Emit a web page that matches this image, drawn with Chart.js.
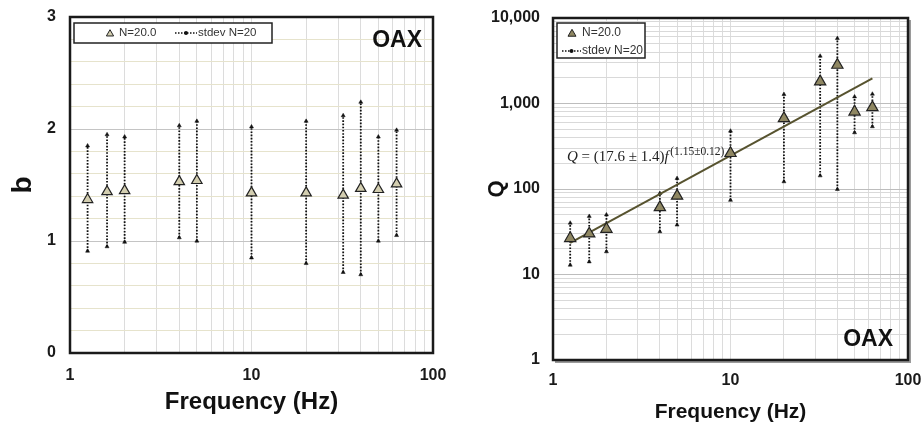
<!DOCTYPE html>
<html>
<head>
<meta charset="utf-8">
<script src="https://cdn.jsdelivr.net/npm/chart.js@4.4.1/dist/chart.umd.min.js"></script>
<style>
    body { margin: 0; background: #fff; }
    .panel { position: absolute; top: 0; }
</style>
</head>
<body>
<div class="panel" style="left:0"><canvas id="bChart" width="460" height="427"></canvas></div>
<div class="panel" style="left:460px"><canvas id="qChart" width="461" height="427"></canvas></div>
<script>
// frequencies (Hz)
const FREQ = [1.25, 1.6, 2, 4, 5, 10, 20, 32, 40, 50, 63];

// left panel: b with stdev range
const B_MEAN = [1.37, 1.44, 1.45, 1.53, 1.54, 1.43, 1.43, 1.41, 1.47, 1.46, 1.51];
const B_LOW  = [0.91, 0.95, 0.99, 1.03, 1.00, 0.85, 0.80, 0.72, 0.70, 1.00, 1.05];
const B_HIGH = [1.85, 1.95, 1.93, 2.03, 2.07, 2.02, 2.07, 2.12, 2.24, 1.93, 1.99];

// right panel: Q with stdev range
const Q_MEAN = [26.5, 30, 34, 61, 83, 262, 670, 1800, 2820, 800, 900];
const Q_LOW  = [12.9, 14.1, 18.5, 31.7, 38, 74, 122, 143, 99, 456, 537];
const Q_HIGH = [40, 48, 50, 89, 133, 477, 1280, 3590, 5780, 1200, 1290];

// fitted line end points
const FIT_F = [1.25, 63];
const FIT_Q = [23.5, 1970];

// tick labels
const F_TICKS = [1, 10, 100];
const B_TICKS = [0, 1, 2, 3];
const Q_TICKS = [1, 10, 100, 1000, 10000];

const STATION = 'OAX';
const LEGEND_MEAN = 'N=20.0';
const LEGEND_STD = 'stdev N=20';

Chart.defaults.font.family = "'Liberation Sans', Arial, sans-serif";
Chart.defaults.color = '#1a1a1a';

// log grid positions 1,2,..9,10,20,...
function logGrid(fromExp, toExp) {
    var vals = [];
    for (var e = fromExp; e < toExp; e++) {
        for (var m = 1; m < 10; m++) vals.push(m * Math.pow(10, e));
    }
    vals.push(Math.pow(10, toExp));
    return vals;
}

function errorBarData(lo, hi) {
    var pts = [];
    FREQ.forEach(function (f, i) {
        pts.push({x: f, y: lo[i]}, {x: f, y: hi[i]}, {x: f, y: null});
    });
    return pts;
}

function meanData(vals) {
    return FREQ.map(function (f, i) { return {x: f, y: vals[i]}; });
}

// small dotted sample with marker for legends
function drawStdSample(ctx, x1, x2, y) {
    ctx.save();
    ctx.strokeStyle = '#111';
    ctx.lineWidth = 1.6;
    ctx.setLineDash([1.5, 1.5]);
    ctx.beginPath();
    ctx.moveTo(x1, y);
    ctx.lineTo(x2, y);
    ctx.stroke();
    ctx.setLineDash([]);
    ctx.fillStyle = '#111';
    ctx.beginPath();
    ctx.arc((x1 + x2) / 2, y, 2, 0, Math.PI * 2);
    ctx.fill();
    ctx.restore();
}

function drawTri(ctx, x, y, r, fill) {
    ctx.save();
    ctx.fillStyle = fill;
    ctx.strokeStyle = '#222';
    ctx.lineWidth = 1;
    ctx.beginPath();
    ctx.moveTo(x, y - r);
    ctx.lineTo(x + r * 0.95, y + r * 0.65);
    ctx.lineTo(x - r * 0.95, y + r * 0.65);
    ctx.closePath();
    ctx.fill();
    ctx.stroke();
    ctx.restore();
}

function frame(ctx, a, shadow) {
    ctx.save();
    if (shadow) {
        ctx.strokeStyle = '#9a9a9a';
        ctx.lineWidth = 2;
        ctx.beginPath();
        ctx.moveTo(a.left + 2, a.bottom + 2);
        ctx.lineTo(a.right + 2, a.bottom + 2);
        ctx.lineTo(a.right + 2, a.top + 2);
        ctx.stroke();
    }
    ctx.strokeStyle = '#1a1a1a';
    ctx.lineWidth = 2.5;
    ctx.strokeRect(a.left, a.top, a.right - a.left, a.bottom - a.top);
    ctx.restore();
}

var bDecor = {
    id: 'bDecor',
    afterDraw: function (chart) {
        var ctx = chart.ctx, a = chart.chartArea;
        frame(ctx, a, false);
        // legend
        var lx = a.left + 4, ly = a.top + 6;
        ctx.save();
        ctx.fillStyle = '#fff';
        ctx.fillRect(lx, ly, 198, 20);
        ctx.strokeStyle = '#222';
        ctx.lineWidth = 1.5;
        ctx.strokeRect(lx, ly, 198, 20);
        drawTri(ctx, lx + 36, ly + 10.5, 3.8, '#d3ceb0');
        ctx.fillStyle = '#333';
        ctx.font = "11.5px 'Liberation Sans'";
        ctx.textBaseline = 'middle';
        ctx.fillText(LEGEND_MEAN, lx + 45, ly + 10);
        drawStdSample(ctx, lx + 101, lx + 123, ly + 10);
        ctx.fillText(LEGEND_STD, lx + 124, ly + 10);
        // station
        ctx.font = "bold 23px 'Liberation Sans'";
        ctx.fillStyle = '#111';
        ctx.textAlign = 'right';
        ctx.fillText(STATION, a.right - 11, a.top + 24);
        ctx.restore();
    }
};

var qDecor = {
    id: 'qDecor',
    afterDraw: function (chart) {
        var ctx = chart.ctx, a = chart.chartArea;
        frame(ctx, a, true);
        var lx = a.left + 4, ly = a.top + 5;
        ctx.save();
        ctx.fillStyle = '#fff';
        ctx.fillRect(lx, ly, 88, 35);
        ctx.strokeStyle = '#222';
        ctx.lineWidth = 1.5;
        ctx.strokeRect(lx, ly, 88, 35);
        drawTri(ctx, lx + 15, ly + 10.5, 4.2, '#8f8762');
        ctx.fillStyle = '#333';
        ctx.font = "12px 'Liberation Sans'";
        ctx.textBaseline = 'middle';
        ctx.fillText(LEGEND_MEAN, lx + 25, ly + 10);
        drawStdSample(ctx, lx + 5, lx + 24, ly + 28);
        ctx.fillText(LEGEND_STD, lx + 25, ly + 28);
        // fit equation
        var ex = a.left + 14, ey = a.top + 143;
        ctx.textBaseline = 'alphabetic';
        ctx.fillStyle = '#222';
        ctx.font = "italic 15px 'Liberation Serif'";
        ctx.fillText('Q', ex, ey);
        var w = ctx.measureText('Q').width;
        ctx.font = "15px 'Liberation Serif'";
        var mid = ' = (17.6 \u00b1 1.4)';
        ctx.fillText(mid, ex + w, ey);
        w += ctx.measureText(mid).width;
        ctx.font = "italic 15px 'Liberation Serif'";
        ctx.fillText('f', ex + w, ey);
        w += ctx.measureText('f').width + 1.5;
        ctx.font = "11.5px 'Liberation Serif'";
        ctx.fillText('(1.15\u00b10.12)', ex + w, ey - 6);
        // station
        ctx.font = "bold 23px 'Liberation Sans'";
        ctx.fillStyle = '#111';
        ctx.textAlign = 'right';
        ctx.textBaseline = 'middle';
        ctx.fillText(STATION, a.right - 15, a.bottom - 20);
        ctx.restore();
    }
};

function freqAxis(height, labelPad, titleSize, titlePad) {
    return {
        type: 'logarithmic',
        min: 1,
        max: 100,
        afterBuildTicks: function (scale) {
            scale.ticks = logGrid(0, 2).map(function (v) { return {value: v}; });
        },
        afterFit: function (scale) {
            scale.height = height;
            scale.paddingLeft = 0;
            scale.paddingRight = 0;
        },
        grid: {
            color: '#dcdcdc',
            lineWidth: 1,
            drawTicks: false
        },
        border: { display: false },
        ticks: {
            autoSkip: false,
            maxRotation: 0,
            padding: labelPad,
            font: { size: 16, weight: 'bold' },
            color: '#1a1a1a',
            callback: function (v) {
                return F_TICKS.indexOf(v) >= 0 ? String(v) : '';
            }
        },
        title: {
            display: true,
            text: 'Frequency (Hz)',
            font: { size: titleSize, weight: 'bold' },
            color: '#111',
            padding: { top: 0, bottom: titlePad }
        }
    };
}

function stdevDataset(lo, hi) {
    return {
        label: LEGEND_STD,
        data: errorBarData(lo, hi),
        borderColor: '#111',
        borderWidth: 1.8,
        borderDash: [1.6, 1.6],
        spanGaps: false,
        pointStyle: 'triangle',
        pointRadius: 2.3,
        pointBackgroundColor: '#111',
        pointBorderColor: '#111',
        pointBorderWidth: 0.5,
        order: 2
    };
}

var ctxB = document.getElementById('bChart').getContext('2d');
var bChart = new Chart(ctxB, {
    type: 'line',
    plugins: [bDecor],
    data: {
        datasets: [{
            label: LEGEND_MEAN,
            data: meanData(B_MEAN),
            showLine: false,
            pointStyle: 'triangle',
            pointRadius: 6,
            pointBackgroundColor: '#d3ceb0',
            pointBorderColor: '#222',
            pointBorderWidth: 1.2,
            order: 0
        }, stdevDataset(B_LOW, B_HIGH)]
    },
    options: {
        responsive: false,
        animation: false,
        layout: { padding: { left: 0, top: 17, right: 27, bottom: 0 } },
        plugins: { legend: { display: false }, tooltip: { enabled: false } },
        scales: {
            x: freqAxis(74, 13, 24, 10.6),
            y: {
                type: 'linear',
                min: 0,
                max: 3,
                afterBuildTicks: function (scale) {
                    var t = [];
                    for (var i = 0; i <= 15; i++) t.push({value: i / 5});
                    scale.ticks = t;
                },
                afterFit: function (scale) {
                    scale.width = 70;
                    scale.paddingTop = 0;
                    scale.paddingBottom = 0;
                },
                grid: {
                    drawTicks: false,
                    lineWidth: 1,
                    color: function (c) {
                        return Number.isInteger(c.tick.value) ? '#c4c4c4' : '#e6e3cc';
                    }
                },
                border: { display: false },
                ticks: {
                    autoSkip: false,
                    padding: 14,
                    font: { size: 16, weight: 'bold' },
                    color: '#1a1a1a',
                    callback: function (v) {
                        return B_TICKS.indexOf(v) >= 0 ? String(v) : '';
                    }
                },
                title: {
                    display: true,
                    text: 'b',
                    font: { size: 28, weight: 'bold' },
                    color: '#111',
                    padding: { top: 6, bottom: 0 }
                }
            }
        }
    }
});

var ctxQ = document.getElementById('qChart').getContext('2d');
var qChart = new Chart(ctxQ, {
    type: 'line',
    plugins: [qDecor],
    data: {
        datasets: [{
            label: LEGEND_MEAN,
            data: meanData(Q_MEAN),
            showLine: false,
            pointStyle: 'triangle',
            pointRadius: 6.5,
            pointBackgroundColor: '#8f8762',
            pointBorderColor: '#222',
            pointBorderWidth: 1.2,
            order: 0
        }, {
            label: 'fit',
            data: FIT_F.map(function (f, i) { return {x: f, y: FIT_Q[i]}; }),
            borderColor: '#57532f',
            borderWidth: 2,
            pointRadius: 0,
            order: 1
        }, stdevDataset(Q_LOW, Q_HIGH)]
    },
    options: {
        responsive: false,
        animation: false,
        layout: { padding: { left: 0, top: 18, right: 13, bottom: 0 } },
        plugins: { legend: { display: false }, tooltip: { enabled: false } },
        scales: {
            x: freqAxis(67, 11, 21, 2.4),
            y: {
                type: 'logarithmic',
                min: 1,
                max: 10000,
                afterBuildTicks: function (scale) {
                    scale.ticks = logGrid(0, 4).map(function (v) { return {value: v}; });
                },
                afterFit: function (scale) {
                    scale.width = 93;
                    scale.paddingTop = 0;
                    scale.paddingBottom = 0;
                },
                grid: {
                    drawTicks: false,
                    lineWidth: 1,
                    color: function (c) {
                        return Q_TICKS.indexOf(c.tick.value) >= 0 ? '#bdbdbd' : '#d9d9d9';
                    }
                },
                border: { display: false },
                ticks: {
                    autoSkip: false,
                    padding: 13,
                    font: { size: 16, weight: 'bold' },
                    color: '#1a1a1a',
                    callback: function (v) {
                        return Q_TICKS.indexOf(v) >= 0 ? v.toLocaleString('en-US') : '';
                    }
                },
                title: {
                    display: true,
                    text: 'Q',
                    font: { size: 22, weight: 'bold' },
                    color: '#111',
                    padding: { top: 24, bottom: 0 }
                }
            }
        }
    }
});
</script>
</body>
</html>
